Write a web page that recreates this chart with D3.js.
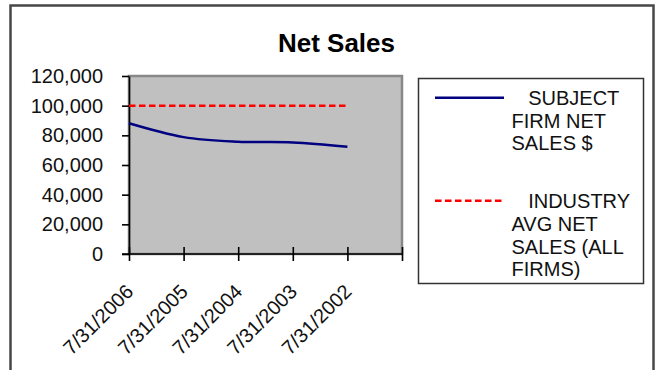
<!DOCTYPE html>
<html>
<head>
<meta charset="utf-8">
<script src="https://cdn.jsdelivr.net/npm/d3@7"></script>
<style>
  html, body { margin: 0; padding: 0; background: #fff; }
  svg { display: block; }
  text { font-family: "Liberation Sans", Arial, sans-serif; }
</style>
</head>
<body>
<svg id="chart" width="656" height="370"></svg>
<script>
// Fiscal year-end dates, most recent first
const periods = ["7/31/2006", "7/31/2005", "7/31/2004", "7/31/2003", "7/31/2002"];
// Net sales ($)
const subjectSales = [88100, 78800, 75700, 75200, 72300];
const industrySales = [100000, 100000, 100000, 100000, 100000];
const yTicks = [0, 20000, 40000, 60000, 80000, 100000, 120000];
const seriesNames = [
  ["   SUBJECT", "FIRM NET", "SALES $"],
  ["   INDUSTRY", "AVG NET", "SALES (ALL", "FIRMS)"]
];

const svg = d3.select("#chart");
const plot = { left: 129, right: 402, top: 76, bottom: 254 };

// Outer chart frame
svg.append("rect")
  .attr("x", 10.5).attr("y", 5.5)
  .attr("width", 643).attr("height", 380)
  .attr("fill", "#fff").attr("stroke", "#474747").attr("stroke-width", 2.5);

// Title
svg.append("text")
  .attr("x", 336.5).attr("y", 52)
  .attr("text-anchor", "middle")
  .attr("font-size", 26).attr("font-weight", "bold")
  .attr("fill", "#000")
  .text("Net Sales");

// Scales: category slots 0..n, with the points on the tick marks
const x = d3.scaleLinear().domain([0, periods.length]).range([plot.left, plot.right]);
const y = d3.scaleLinear().domain([0, 120000]).range([plot.bottom, plot.top]);

// Plot area
svg.append("rect")
  .attr("x", plot.left).attr("y", plot.top)
  .attr("width", plot.right - plot.left).attr("height", plot.bottom - plot.top)
  .attr("fill", "#c0c0c0").attr("stroke", "#888").attr("stroke-width", 2.5);

// Y axis
const yAxis = svg.append("g")
  .attr("transform", `translate(${plot.left},0)`)
  .call(d3.axisLeft(y).tickValues(yTicks).tickFormat(d3.format(",")).tickSizeInner(7).tickSizeOuter(0).tickPadding(19));
yAxis.select(".domain").attr("stroke", "#000").attr("stroke-width", 1.6);
yAxis.selectAll(".tick line").attr("stroke", "#000").attr("stroke-width", 1.6);
yAxis.selectAll(".tick text")
  .attr("font-size", 20).attr("fill", "#111")
  .attr("font-family", "Liberation Sans, Arial, sans-serif");

// X axis
const xAxis = svg.append("g")
  .attr("transform", `translate(0,${plot.bottom})`)
  .call(d3.axisBottom(x)
    .tickValues(d3.range(periods.length + 1))
    .tickFormat(i => periods[i] || "")
    .tickSizeInner(7).tickSizeOuter(0));
xAxis.select(".domain").attr("stroke", "#000").attr("stroke-width", 1.6)
  .attr("d", `M${plot.left - 7},0H${plot.right}`);
xAxis.selectAll(".tick line").attr("stroke", "#000").attr("stroke-width", 1.6).attr("y1", -7);
xAxis.selectAll(".tick text")
  .attr("font-size", 20).attr("fill", "#111")
  .attr("font-family", "Liberation Sans, Arial, sans-serif")
  .attr("text-anchor", "end")
  .attr("y", null).attr("dy", null)
  .attr("transform", "translate(5,39) rotate(-45)");

// Series lines
const smooth = d3.line()
  .x((d, i) => x(i))
  .y(d => y(d))
  .curve(d3.curveCardinal.tension(0));
const straight = d3.line()
  .x((d, i) => x(i))
  .y(d => y(d));

svg.append("path")
  .datum(industrySales)
  .attr("d", straight)
  .attr("fill", "none").attr("stroke", "#ff0000").attr("stroke-width", 2.5)
  .attr("stroke-dasharray", "6.5,3.5");

svg.append("path")
  .datum(subjectSales)
  .attr("d", smooth)
  .attr("fill", "none").attr("stroke", "#000080").attr("stroke-width", 2.5);

// Legend
const legend = svg.append("g");
legend.append("rect")
  .attr("x", 418.5).attr("y", 78.5).attr("width", 225).attr("height", 205)
  .attr("fill", "#fff").attr("stroke", "#333").attr("stroke-width", 1.5);

const legendStyles = [
  { color: "#000080", dash: null, lineY: 97.7, textY: 105 },
  { color: "#ff0000", dash: "6.5,3.5", lineY: 200.7, textY: 208.3 }
];
seriesNames.forEach((lines, k) => {
  const st = legendStyles[k];
  legend.append("line")
    .attr("x1", 435).attr("x2", 504).attr("y1", st.lineY).attr("y2", st.lineY)
    .attr("stroke", st.color).attr("stroke-width", 2.5)
    .attr("stroke-dasharray", st.dash);
  const t = legend.append("text")
    .attr("font-size", 20).attr("fill", "#111")
    .style("white-space", "pre");
  lines.forEach((ln, j) => {
    t.append("tspan").attr("x", 511.5).attr("y", st.textY + j * 22.6).text(ln);
  });
});
</script>
</body>
</html>
